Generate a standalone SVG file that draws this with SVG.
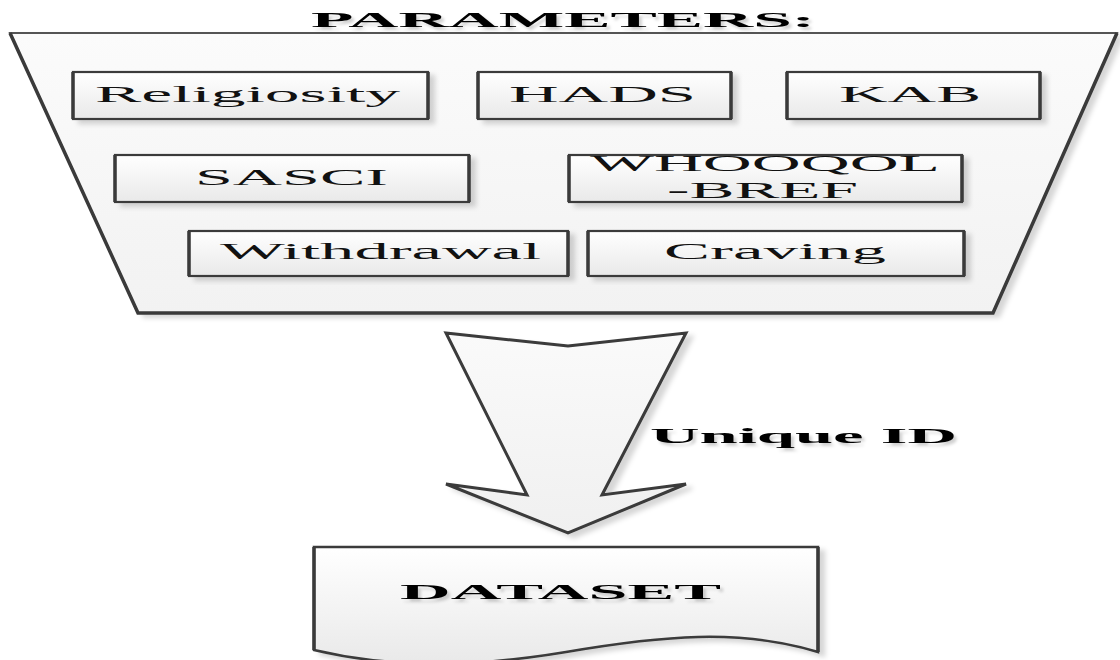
<svg xmlns="http://www.w3.org/2000/svg" width="1120" height="660" viewBox="0 0 1120 660">
<defs>
  <linearGradient id="boxFill" x1="0" y1="0" x2="0" y2="1">
    <stop offset="0" stop-color="#ffffff"/>
    <stop offset="1" stop-color="#e9e9e9"/>
  </linearGradient>
  <linearGradient id="panelFill" x1="0" y1="0" x2="0" y2="1">
    <stop offset="0" stop-color="#fbfbfb"/>
    <stop offset="1" stop-color="#f2f2f2"/>
  </linearGradient>
  <linearGradient id="arrowFill" x1="0" y1="0" x2="0" y2="1">
    <stop offset="0" stop-color="#fafafa"/>
    <stop offset="1" stop-color="#f0f0f0"/>
  </linearGradient>
  <filter id="shadow" x="-10%" y="-10%" width="125%" height="130%">
    <feDropShadow dx="6" dy="4" stdDeviation="2.5" flood-color="#000" flood-opacity="0.16"/>
  </filter>
  <filter id="tshadow" x="-5%" y="-20%" width="115%" height="160%">
    <feDropShadow dx="3" dy="3" stdDeviation="1.5" flood-color="#000" flood-opacity="0.18"/>
  </filter>
</defs>
<style>
  .box { fill: url(#boxFill); stroke: #3a3a3a; stroke-width: 2.2; filter: url(#shadow); }
  .side { fill: none; stroke: #3a3a3a; stroke-width: 3.5; }
  .lbl { font-family: "Liberation Serif", "Times New Roman", serif; font-size: 24px; fill: #111; }
  .bold { font-family: "Liberation Serif", "Times New Roman", serif; font-size: 22px; font-weight: bold; fill: #000; filter: url(#tshadow); }
  .edge { fill: none; stroke: #3a3a3a; stroke-linejoin: miter; }
</style>
<rect width="1120" height="660" fill="#ffffff"/>

<g id="parameters">
  <polygon points="10,33 1117,33 993,313 138,313" fill="url(#panelFill)" stroke="#555" stroke-width="2" filter="url(#shadow)"/>
  <path class="edge" d="M10,33 L138,313 L993,313 L1117,33" stroke-width="3.5"/>
  <text class="bold" x="311" y="27" textLength="504" lengthAdjust="spacingAndGlyphs">PARAMETERS:</text>
</g>

<g id="religiosity">
  <rect class="box" x="73" y="72" width="355" height="47"/>
  <path class="side" d="M73,72 V119 M428,72 V119"/>
  <text class="lbl" x="95" y="102" textLength="305" lengthAdjust="spacingAndGlyphs">Religiosity</text>
</g>
<g id="hads">
  <rect class="box" x="478" y="72" width="253" height="47"/>
  <path class="side" d="M478,72 V119 M731,72 V119"/>
  <text class="lbl" x="509" y="102" textLength="187" lengthAdjust="spacingAndGlyphs">HADS</text>
</g>
<g id="kab">
  <rect class="box" x="787" y="72" width="253" height="47"/>
  <path class="side" d="M787,72 V119 M1040,72 V119"/>
  <text class="lbl" x="839" y="102" textLength="142" lengthAdjust="spacingAndGlyphs">KAB</text>
</g>
<g id="sasci">
  <rect class="box" x="115" y="155" width="354" height="47"/>
  <path class="side" d="M115,155 V202 M469,155 V202"/>
  <text class="lbl" x="195" y="185" textLength="193" lengthAdjust="spacingAndGlyphs">SASCI</text>
</g>
<g id="whoqol">
  <rect class="box" x="569" y="155" width="393" height="47"/>
  <path class="side" d="M569,155 V202 M962,155 V202"/>
  <text class="lbl" x="590" y="171" textLength="350" lengthAdjust="spacingAndGlyphs">WHOOQOL</text>
  <text class="lbl" x="667" y="198" textLength="191" lengthAdjust="spacingAndGlyphs">-BREF</text>
</g>
<g id="withdrawal">
  <rect class="box" x="189" y="231" width="379" height="45"/>
  <path class="side" d="M189,231 V276 M568,231 V276"/>
  <text class="lbl" x="220" y="259" textLength="321" lengthAdjust="spacingAndGlyphs">Withdrawal</text>
</g>
<g id="craving">
  <rect class="box" x="588" y="231" width="376" height="45"/>
  <path class="side" d="M588,231 V276 M964,231 V276"/>
  <text class="lbl" x="664" y="259" textLength="222" lengthAdjust="spacingAndGlyphs">Craving</text>
</g>

<g id="connectors">
  <path d="M446,333 L568,346 L686,333 L602,495 L686,484 L568,533 L446,484 L527,495 Z" fill="url(#arrowFill)" stroke="#3a3a3a" stroke-width="3" stroke-linejoin="miter" filter="url(#shadow)"/>
  <text class="bold" x="650" y="443" textLength="307" lengthAdjust="spacingAndGlyphs">Unique ID</text>
</g>

<g id="dataset">
  <path d="M314,547 H818 V652 C 740,628 660,636 566,652 C 470,668 390,668 314,650 Z" fill="url(#boxFill)" stroke="#3a3a3a" stroke-width="2.5" filter="url(#shadow)"/>
  <path class="side" d="M314,547 V650 M818,547 V652"/>
  <text class="bold" x="400" y="599" textLength="321" lengthAdjust="spacingAndGlyphs">DATASET</text>
</g>
</svg>
